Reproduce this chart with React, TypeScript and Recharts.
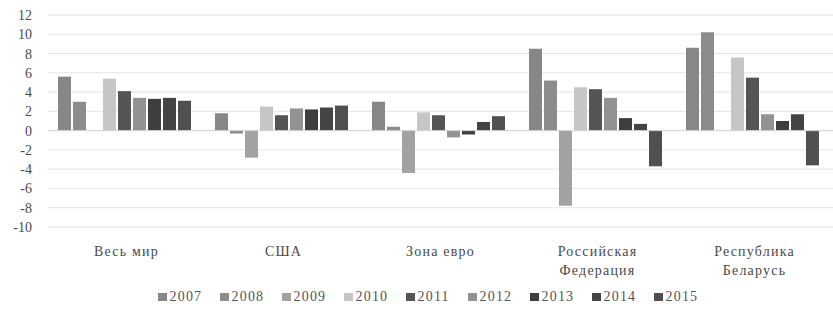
import React from "react";
import { BarChart, Bar, XAxis, YAxis, CartesianGrid, Legend, ReferenceLine } from "recharts";

// regions on the x axis, split into the lines they are printed on
const categoryLines = [
  ["Весь мир"],
  ["США"],
  ["Зона евро"],
  ["Российская", "Федерация"],
  ["Республика", "Беларусь"],
];

const years = ["2007", "2008", "2009", "2010", "2011", "2012", "2013", "2014", "2015"];

// GDP growth, %, one array per region in year order
const worldValues = [5.6, 3.0, 0, 5.4, 4.1, 3.4, 3.3, 3.4, 3.1];
const usaValues = [1.8, -0.3, -2.8, 2.5, 1.6, 2.3, 2.2, 2.4, 2.6];
const euroValues = [3.0, 0.4, -4.4, 1.9, 1.6, -0.7, -0.4, 0.9, 1.5];
const russiaValues = [8.5, 5.2, -7.8, 4.5, 4.3, 3.4, 1.3, 0.7, -3.7];
const belarusValues = [8.6, 10.2, 0, 7.6, 5.5, 1.7, 1.0, 1.7, -3.6];

const yTicks = [-10, -8, -6, -4, -2, 0, 2, 4, 6, 8, 10, 12];

const yearColors = ["#878787", "#8c8c8c", "#a2a2a2", "#c6c6c6", "#555555", "#929292", "#3e3e3e", "#444444", "#505050"];

const regionValues = [worldValues, usaValues, euroValues, russiaValues, belarusValues];

const data = categoryLines.map((lines, i) => {
  const row: Record<string, any> = { name: lines.join(" "), idx: i };
  years.forEach((y, j) => {
    row[y] = regionValues[i][j];
  });
  return row;
});

const FONT = "Liberation Serif, Times New Roman, DejaVu Serif, serif";

const CategoryTick = ({ x, y, payload }: any) => {
  const lines = categoryLines[payload.index] || [payload.value];
  return (
    <text x={x} y={y} textAnchor="middle" fill="#4a4a4a" style={{ fontFamily: FONT }} fontSize={14} letterSpacing={1.2}>
      {lines.map((l, i) => (
        <tspan key={i} x={x} dy={i === 0 ? 29 : 19}>
          {l}
        </tspan>
      ))}
    </text>
  );
};

const LegendContent = () => (
  <div
    style={{
      display: "flex",
      justifyContent: "center",
      alignItems: "center",
      height: 30,
      paddingTop: 6,
      paddingLeft: 40,
      boxSizing: "border-box",
      fontFamily: FONT,
      fontSize: 14,
      letterSpacing: 1.2,
      color: "#555",
    }}
  >
    {years.map((y, i) => (
      <span key={y} style={{ display: "inline-flex", alignItems: "center", width: 62 }}>
        <span style={{ width: 9, height: 8, background: yearColors[i], marginRight: 3, display: "inline-block" }} />
        {y}
      </span>
    ))}
  </div>
);

export default function App() {
  return (
    <div style={{ position: "absolute", left: 0, top: 0, background: "#fff", fontFamily: FONT }}>
      <style>{"body{margin:0}"}</style>
      <BarChart
        width={833}
        height={312}
        data={data}
        margin={{ top: 15, right: 0, left: 0, bottom: 3 }}
        barCategoryGap={10}
        barGap={2}
        style={{ fontFamily: FONT }}
      >
        <CartesianGrid vertical={false} stroke="#e4e4e4" />
        <XAxis
          dataKey="name"
          axisLine={false}
          tickLine={false}
          tickSize={0}
          tickMargin={0}
          height={52}
          interval={0}
          tick={<CategoryTick />}
        />
        <YAxis
          width={48}
          domain={[-10, 12]}
          ticks={yTicks}
          interval={0}
          axisLine={false}
          tickLine={false}
          tickSize={0}
          tickMargin={16}
          tick={{ fill: "#4a4a4a", fontSize: 14, style: { fontFamily: FONT } }}
        />
        <ReferenceLine y={0} stroke="#d4d4d4" />
        <Legend verticalAlign="bottom" height={30} content={<LegendContent />} />
        {years.map((y, i) => (
          <Bar key={y} dataKey={y} fill={yearColors[i]} isAnimationActive={false} />
        ))}
      </BarChart>
    </div>
  );
}
